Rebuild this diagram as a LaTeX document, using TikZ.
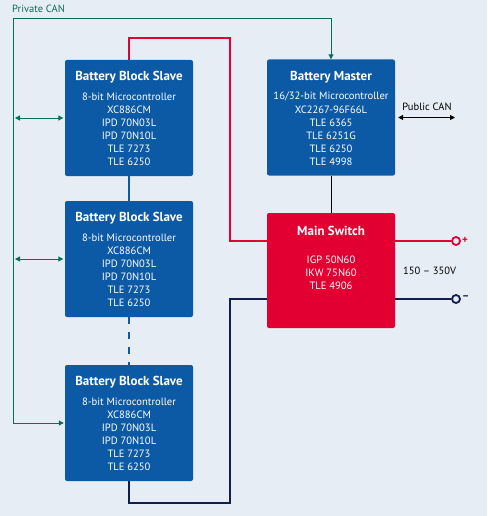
\documentclass[tikz,border=0pt]{standalone}
\usepackage{fontspec}
\setmainfont{PT Sans}
\usetikzlibrary{arrows.meta}
\definecolor{bg}{RGB}{231,237,244}
\definecolor{boxblue}{RGB}{12,90,166}
\definecolor{boxred}{RGB}{226,0,50}
\definecolor{navyc}{RGB}{18,30,78}
\definecolor{cangreen}{RGB}{10,110,90}
\newcommand\boxtext[5]{%
  \node[titletxt] (#1t) at ([yshift=-#3pt]#1.north) {#2};
  \foreach \l [count=\i from 0] in {#5} {
    \node[bodytxt] (#1b\i) at ([yshift={-(#4+13*\i)*1pt}]#1.north) {\l};
  }
}
\begin{document}
\begin{tikzpicture}[x=1pt,y=-1pt,
  bluebox/.style={fill=boxblue, rounded corners=2pt, minimum width=128pt, minimum height=116pt, inner sep=0pt},
  redbox/.style={fill=boxred, rounded corners=2pt, minimum width=128pt, minimum height=115pt, inner sep=0pt},
  titletxt/.style={text=white, font=\bfseries\fontsize{13}{15}\selectfont, inner sep=0pt},
  bodytxt/.style={text=white, font=\fontsize{10.6}{12}\selectfont, inner sep=0pt},
  can/.style={draw=cangreen, line width=1pt},
  cantip/.style={{Triangle[length=5pt,width=5pt]}-{Triangle[length=5pt,width=5pt]}},
  redline/.style={draw=boxred, line width=2.8pt},
  navyline/.style={draw=navyc, line width=2.8pt},
  blueline/.style={draw=boxblue, line width=2.8pt},
  term/.style={circle, minimum size=8pt, inner sep=0pt, fill=bg, line width=1.8pt},
  lbl/.style={font=\fontsize{10.5}{12}\selectfont, inner sep=0pt}
]
\fill[bg] (0,0) rectangle (487,516);
\useasboundingbox (0,0) rectangle (487,516);

% boxes
\node[bluebox] (s1) at (129,118) {};
\node[bluebox] (s2) at (129,259) {};
\node[bluebox] (s3) at (129,423) {};
\node[bluebox] (m) at (331,117.5) {};
\node[redbox] (sw) at (331,270.5) {};

\boxtext{s1}{Battery Block Slave}{17}{37}{8-bit Microcontroller,XC886CM,IPD 70N03L,IPD 70N10L,TLE 7273,TLE 6250}
\boxtext{s2}{Battery Block Slave}{17}{37}{8-bit Microcontroller,XC886CM,IPD 70N03L,IPD 70N10L,TLE 7273,TLE 6250}
\boxtext{s3}{Battery Block Slave}{17}{37}{8-bit Microcontroller,XC886CM,IPD 70N03L,IPD 70N10L,TLE 7273,TLE 6250}
\boxtext{m}{Battery Master}{18}{37}{{16/32-bit Microcontroller},XC2267-96F66L,TLE 6365,TLE 6251G,TLE 6250,TLE 4998}
\boxtext{sw}{Main Switch}{18}{47}{IGP 50N60,IKW 75N60,TLE 4906}

% private CAN
\coordinate (pcL) at (13,19);
\node[lbl, text=cangreen, anchor=west] (pcan) at (12,9) {Private CAN};
\draw[can, cantip, shorten <=1pt] (s3.west) -| (pcL) -| (m.north);
\draw[can, cantip, shorten >=1.5pt] ([xshift=2pt]pcL |- s1.west) -- (s1.west);
\draw[can, cantip, shorten >=1.5pt] ([xshift=2pt]pcL |- s2.west) -- (s2.west);

% public CAN
\coordinate (pubR) at (455,117.5);
\draw[line width=1pt, {Triangle[length=5pt,width=5pt]}-{Triangle[length=5pt,width=5pt]}] ([xshift=3pt]m.east) -- (pubR);
\node[lbl] (publ) at (427,107) {Public CAN};

% slave chain
\draw[blueline] (s1.south) -- (s2.north);
\draw[blueline, dash pattern=on 7pt off 8pt] (s2.south) -- (s3.north);

% master to switch
\draw[line width=1pt] (m.south) -- (sw.north);

% red power line
\coordinate (r1) at (230,38);
\draw[redline] (s1.north) |- (r1) |- ([yshift=29.5pt]sw.west);
\node[term, draw=boxred] (pplus) at (456,241) {};
\draw[redline] ([yshift=29.5pt]sw.east) -- (pplus.west);
\node[lbl, text=boxred, font=\bfseries\fontsize{11}{12}\selectfont, anchor=west] (plus) at (462,240.5) {+};

% navy power line
\coordinate (n1) at (230,503);
\draw[navyline] ([yshift=-28.5pt]sw.west) -| (n1) -| (s3.south);
\node[term, draw=navyc] (pminus) at (456,299) {};
\draw[navyline] ([yshift=-28.5pt]sw.east) -- (pminus.west);
\node[lbl, text=navyc, font=\bfseries\fontsize{11}{12}\selectfont, anchor=west] (minus) at (462,298) {–};

\node[lbl, anchor=west] (volt) at (403,271) {150 – 350V};
\end{tikzpicture}
\end{document}
